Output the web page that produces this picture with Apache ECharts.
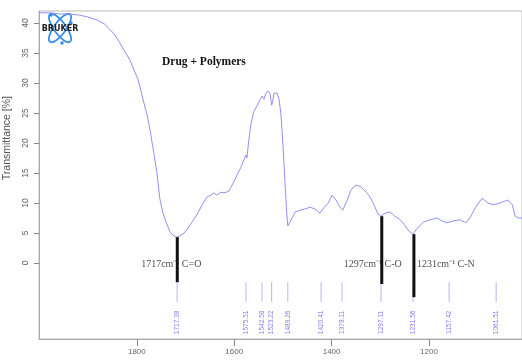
<!DOCTYPE html>
<html>
<head>
<meta charset="utf-8">
<script src="https://cdn.jsdelivr.net/npm/echarts@6/dist/echarts.min.js"></script>
<style>html,body{margin:0;padding:0;background:#fff}#c{width:522px;height:364px}</style>
</head>
<body>
<div id="c"></div>
<script>
// Spectrum (wavenumber cm-1, transmittance %)
const wavenumbers = [2001,1979,1958,1938,1917,1901,1882,1866,1856,1845,1835,1825,1814,1804,1798,1792,1786,1779,1773,1767,1759,1753,1747,1740,1732,1724,1718,1712,1703,1695,1687,1677,1666,1656,1648,1642,1636,1627,1619,1611,1603,1594,1586,1580,1576,1574,1570,1566,1560,1553,1547,1543,1539,1535,1531,1527,1523,1518,1512,1508,1504,1500,1496,1492,1490,1486,1481,1475,1465,1455,1444,1434,1424,1416,1407,1399,1391,1383,1377,1368,1360,1350,1340,1329,1321,1313,1305,1299,1290,1280,1270,1259,1249,1241,1233,1225,1212,1198,1183,1173,1163,1151,1136,1124,1116,1105,1091,1079,1068,1054,1038,1029,1023,1017,1009];
const transmittance = [41.7,41.7,41.5,41.5,41.3,41.0,40.5,39.8,39.0,38.0,36.7,35.3,33.8,31.8,30.7,28.8,26.8,24.7,22.2,19.2,15.2,10.8,8.5,6.8,5.2,4.5,4.3,4.5,5.0,5.8,6.8,8.0,9.7,11.0,11.3,11.7,11.3,11.8,11.7,12.0,13.2,14.7,16.0,17.2,18.0,17.5,20.5,23.0,25.2,26.2,27.2,27.8,27.3,28.3,28.7,28.3,26.3,28.3,28.3,27.3,24.7,19.7,13.8,8.0,6.2,6.0,7.5,8.5,8.8,9.0,9.3,9.0,8.3,9.2,10.0,11.3,10.5,9.3,8.8,10.5,12.2,13.0,12.7,11.8,11.0,9.7,8.2,7.8,8.3,8.5,7.8,7.2,6.2,5.3,4.8,5.7,6.8,7.2,7.5,7.0,6.7,7.0,7.2,6.7,7.5,9.2,10.8,10.0,9.7,10.0,10.5,9.7,7.8,7.5,7.5];

// Peak picks
const peakPositions = [1717.4,1576.0,1543.0,1523.2,1490.0,1421.6,1378.6,1298.5,1232.7,1158.7,1062.1];
const peakLabels = ['1717.38','1575.51','1542.58','1523.22','1489.26','1420.41','1378.11','1297.11','1231.56','1157.42','1061.51'];

// Highlighted bands
const bandPositions = [1717, 1297, 1231];
const bandTop = [4.3, 7.8, 4.8];
const bandBottom = [-3.2, -3.5, -5.7];
const bandTexts = ['1717cm\u207B\u00B9 C=O', '1297cm\u207B\u00B9 C-O', '1231cm\u207B\u00B9 C-N'];

const yTicks = [0,5,10,15,20,25,30,35,40];
const xTicks = [1200,1400,1600,1800];

const chart = echarts.init(document.getElementById('c'), null, {renderer:'canvas'});

const lineData = wavenumbers.map((w,i)=>[w, transmittance[i]]);

const option = {
  animation: false,
  title: {
    text: 'Drug + Polymers', left: 157, top: 51,
    textStyle: {fontFamily:'Liberation Serif', fontWeight:'bold', fontSize: 11.5, color:'#111'}
  },
  grid: {left: 39, top: 11, right: -3, bottom: 25, show: true, borderColor:'#bbb', borderWidth:1},
  xAxis: {
    type:'value', min: 1009, max: 2001, inverse: true,
    splitLine:{show:false},
    axisLine:{show:true, onZero:false, lineStyle:{color:'#aaa'}},
    axisTick:{show:true, length:7, lineStyle:{color:'#888'}, customValues: xTicks},
    axisLabel:{fontSize:8, color:'#666', margin:9, customValues: xTicks, fontFamily:'Liberation Sans', formatter: v=>String(v)}
  },
  yAxis: {
    type:'value', min:-12.67, max:42,
    splitLine:{show:false},
    axisLine:{show:true, onZero:false, lineStyle:{color:'#aaa'}},
    axisTick:{show:true, length:5, lineStyle:{color:'#888'}, customValues: yTicks},
    axisLabel:{fontSize:8.5, color:'#666', rotate:90, margin:9, customValues: yTicks, fontFamily:'Liberation Sans'}
  },
  graphic: [
    {type:'text', left: 2, top: 96, rotation: Math.PI/2,
     style:{text:'Transmittance [%]', fontSize:10.5, fill:'#555', fontFamily:'Liberation Sans'}},
    // Bruker logo
    {type:'group', x: 60, y: 28, children:[
      {type:'ellipse', shape:{cx:0, cy:0, rx:17, ry:6}, rotation: Math.PI*0.3, style:{fill:'none', stroke:'#3a8ee6', lineWidth:1.8}},
      {type:'ellipse', shape:{cx:0, cy:0, rx:17, ry:6}, rotation: -Math.PI*0.3, style:{fill:'none', stroke:'#3a8ee6', lineWidth:1.8}},
      {type:'circle', shape:{cx:-9, cy:-13, r:1.8}, style:{fill:'#3a8ee6'}},
      {type:'circle', shape:{cx:11, cy:-5, r:1.8}, style:{fill:'#3a8ee6'}},
      {type:'circle', shape:{cx:2, cy:15, r:1.8}, style:{fill:'#3a8ee6'}},
      {type:'text', x:0, y:1, style:{text:'BRUKER', fontSize:8, fontWeight:'bold', fill:'#222', align:'center', verticalAlign:'middle', fontFamily:'DejaVu Sans'}}
    ]}
  ],
  series: [
    {
      type:'line', data: lineData, showSymbol:false, symbol:'none',
      lineStyle:{color:'#9090f5', width:1}, z:3
    },
    {
      // thin peak marker lines
      type:'custom', z:2,
      data: peakPositions.map(p=>[p]),
      renderItem: function(params, api){
        const x = api.value(0);
        const a = api.coord([x, -3.2]);
        const b = api.coord([x, -6.5]);
        return {type:'line', shape:{x1:a[0], y1:a[1], x2:b[0], y2:b[1]}, style:{stroke:'#a3a3f5', lineWidth:0.8}};
      }
    },
    {
      // peak labels
      type:'scatter', symbolSize:0, z:2,
      data: peakPositions.map((p,i)=>({value:[p, -9.9], name: peakLabels[i]})),
      label:{show:true, position:'inside', rotate:90, formatter: p=>p.name, fontSize:6.5, color:'#5c5cf0', fontFamily:'Liberation Sans'}
    },
    {
      // band annotation texts
      type:'scatter', symbolSize:0, z:4,
      data: bandPositions.map((p,i)=>({value:[p, -0.3], name: bandTexts[i]})),
      label:{show:true, fontSize:10, color:'#222', fontFamily:'Liberation Serif',
        formatter: p=>p.name,
        position: 'inside'
      },
      labelLayout: function(params){
        const i = params.dataIndex;
        const w = params.labelRect.width;
        let dx;
        if (i===0) dx = -6;
        else if (i===1) dx = -9;
        else dx = w/2 + 3;
        return {dx: dx, dy: 0};
      }
    },
    {
      // thick band bars
      type:'custom', z:5,
      data: bandPositions.map((p,i)=>[p, bandTop[i], bandBottom[i]]),
      renderItem: function(params, api){
        const a = api.coord([api.value(0), api.value(1)]);
        const b = api.coord([api.value(0), api.value(2)]);
        return {type:'line', shape:{x1:a[0], y1:a[1], x2:b[0], y2:b[1]}, style:{stroke:'#111', lineWidth:3}};
      }
    }
  ]
};
chart.setOption(option);
</script>
</body>
</html>
